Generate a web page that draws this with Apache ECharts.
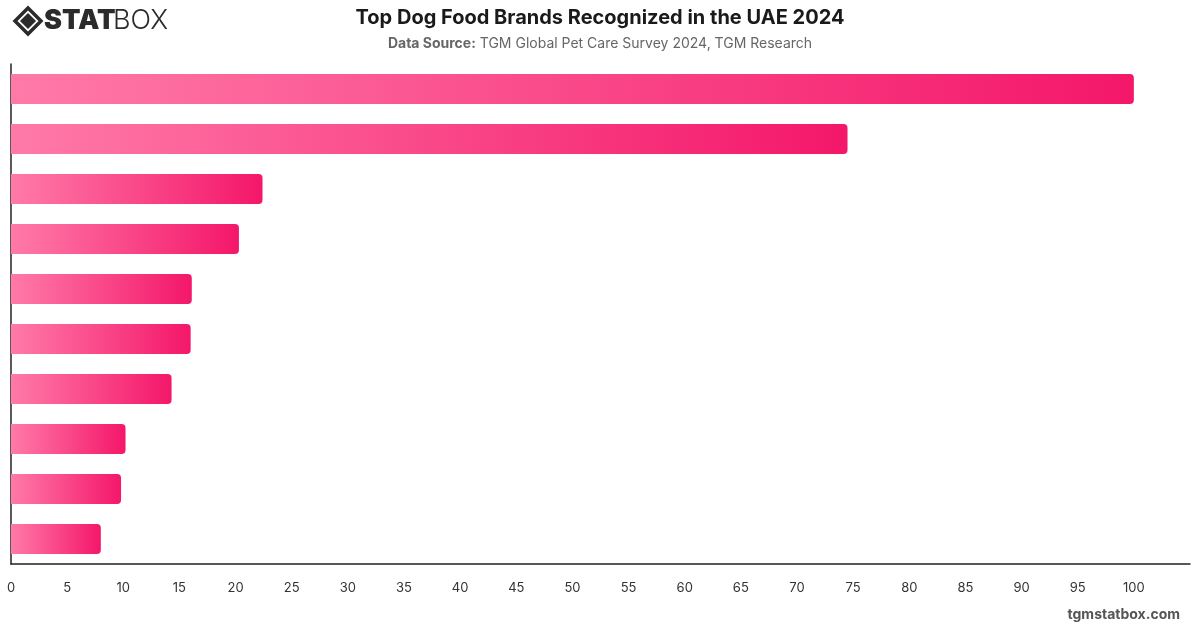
<!DOCTYPE html>
<html>
<head>
<meta charset="utf-8">
<script src="https://cdn.jsdelivr.net/npm/echarts@6/dist/echarts.min.js"></script>
<style>
  html, body { margin: 0; padding: 0; background: #fff; }
  #chart { width: 1200px; height: 628px; }
</style>
</head>
<body>
<div id="chart"></div>
<script>
// brands (labels are not shown in the chart)
var brands = ['Brand 1', 'Brand 2', 'Brand 3', 'Brand 4', 'Brand 5',
              'Brand 6', 'Brand 7', 'Brand 8', 'Brand 9', 'Brand 10'];
// relative recognition index
var scores = [100, 74.5, 22.4, 20.3, 16.1, 16.0, 14.3, 10.2, 9.8, 8.0];

var FONT = 'Inter, "Noto Sans", sans-serif';

var chart = echarts.init(document.getElementById('chart'), null, {renderer: 'canvas'});

var option = {
  backgroundColor: '#fff',
  animation: false,
  title: {
    text: 'Top Dog Food Brands Recognized in the UAE 2024',
    subtext: '{b|Data Source:} TGM Global Pet Care Survey 2024, TGM Research',
    left: 'center',
    top: 3,
    itemGap: 9,
    textStyle: {fontFamily: FONT, fontSize: 20, fontWeight: 'bold', color: '#1a1a1a'},
    subtextStyle: {
      fontFamily: FONT, fontSize: 14, color: '#666',
      rich: {b: {fontFamily: FONT, fontSize: 14, fontWeight: 'bold', color: '#666'}}
    }
  },
  grid: {left: 11, right: 10, top: 64, bottom: 64, containLabel: false},
  xAxis: {
    type: 'value',
    min: 0,
    max: 105,
    interval: 5,
    axisLine: {show: true, lineStyle: {color: '#222', width: 1.5}},
    axisTick: {show: false},
    splitLine: {show: false},
    axisLabel: {
      fontFamily: FONT, fontSize: 13, color: '#333', margin: 18,
      showMaxLabel: false
    }
  },
  yAxis: {
    type: 'category',
    data: brands,
    inverse: true,
    axisLine: {show: true, lineStyle: {color: '#222', width: 1.5}},
    axisTick: {show: false},
    axisLabel: {show: false}
  },
  series: [{
    type: 'bar',
    data: scores,
    barWidth: 30,
    itemStyle: {
      borderRadius: [0, 4, 4, 0],
      color: new echarts.graphic.LinearGradient(0, 0, 1, 0, [
        {offset: 0, color: '#ff7aa8'},
        {offset: 1, color: '#f4176a'}
      ])
    }
  }],
  graphic: [
    // logo mark
    {type: 'polygon', shape: {points: [[28, 8], [41, 21], [28, 34], [15, 21]]},
     style: {fill: 'none', stroke: '#2b2b2b', lineWidth: 3.5}},
    {type: 'polygon', shape: {points: [[28, 13], [36, 21], [28, 29], [20, 21]]},
     style: {fill: '#2b2b2b'}},
    {type: 'text', left: 44, top: 7,
     style: {text: 'STAT', fontFamily: FONT, fontSize: 27, fontWeight: 900, fill: '#2b2b2b'}},
    {type: 'text', left: 113, top: 7,
     style: {text: 'BOX', fontFamily: FONT, fontSize: 27, fontWeight: 300, fill: '#2b2b2b'}},
    // footer
    {type: 'text', right: 20, top: 608,
     style: {text: 'tgmstatbox.com', fontFamily: FONT, fontSize: 14, fontWeight: 'bold', fill: '#555'}}
  ]
};

chart.setOption(option);
</script>
</body>
</html>
